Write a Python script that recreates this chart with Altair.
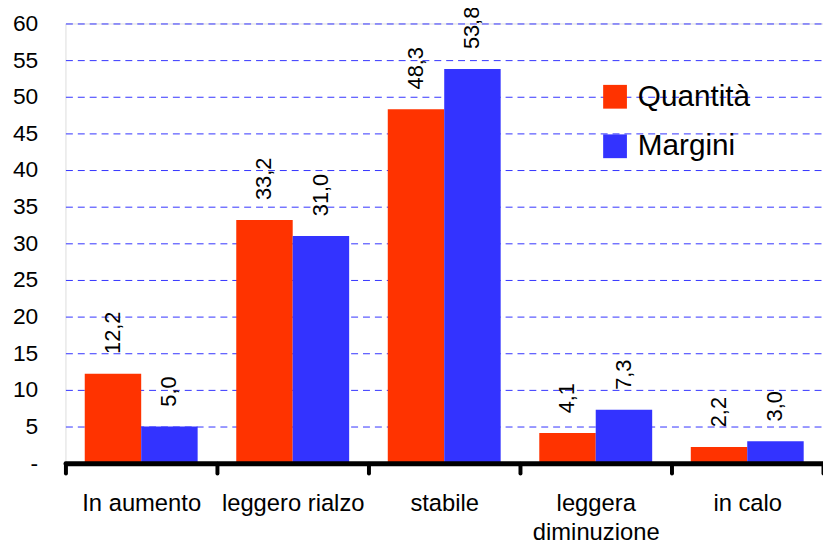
import altair as alt
import pandas as pd

categories = ["In aumento", "leggero rialzo", "stabile", "leggera diminuzione", "in calo"]
series = ["Quantità", "Margini"]
quantita = [12.2, 33.2, 48.3, 4.1, 2.2]
margini = [5.0, 31.0, 53.8, 7.3, 3.0]
colors = ["#FF3300", "#3333FF"]
y_ticks = list(range(0, 61, 5))

rows = []
for c, q, m in zip(categories, quantita, margini):
    rows.append({"cat": c, "serie": series[0], "v": q})
    rows.append({"cat": c, "serie": series[1], "v": m})
df = pd.DataFrame(rows)

FONT = "Liberation Sans"

x = alt.X(
    "cat:N",
    sort=categories,
    scale=alt.Scale(paddingInner=0, paddingOuter=0),
    axis=alt.Axis(
        title=None,
        labelAngle=0,
        tickBand="extent",
        domainColor="black",
        domainWidth=5,
        domainCap="round",
        tickColor="black",
        tickWidth=4,
        tickSize=10,
        tickCap="round",
        labelFont=FONT,
        labelFontSize=24,
        labelColor="black",
        labelPadding=19,
        labelLineHeight=29,
        labelOverlap=False,
        labelBound=False,
        labelLimit=0,
        labelExpr="datum.label == 'leggera diminuzione' ? ['leggera', 'diminuzione'] : datum.label",
        grid=False,
        zindex=1,
    ),
)
xo = alt.XOffset("serie:N", sort=series, scale=alt.Scale(paddingInner=0, paddingOuter=0.342))
y = alt.Y(
    "v:Q",
    scale=alt.Scale(domain=[0, 60], nice=False, zero=True),
    axis=alt.Axis(
        title=None,
        values=y_ticks,
        ticks=False,
        domain=False,
        labelFont=FONT,
        labelFontSize=23,
        labelColor="black",
        labelPadding=28,
        labelOverlap=False,
        labelExpr="datum.value == 0 ? '-' : datum.label",
        grid=True,
        gridColor="#3333FF",
        gridDash=[7, 5],
        gridWidth=1,
        zindex=0,
    ),
)

bars = alt.Chart(df).mark_bar().encode(
    x=x,
    xOffset=xo,
    y=y,
    color=alt.Color(
        "serie:N",
        sort=series,
        scale=alt.Scale(domain=series, range=colors),
        legend=alt.Legend(
            title=None,
            orient="none",
            legendX=540,
            legendY=59,
            symbolType="square",
            symbolSize=576,
            symbolStrokeWidth=0,
            labelFont=FONT,
            labelFontSize=30,
            labelColor="black",
            labelOffset=8,
            rowPadding=20,
        ),
    ),
)

labels = alt.Chart(df).transform_calculate(
    lab="replace(format(datum.v, '.1f'), '.', ',')"
).mark_text(
    angle=270, align="left", baseline="middle", dx=20, font=FONT, fontSize=22, color="black"
).encode(
    x=x,
    xOffset=xo,
    y=y,
    text="lab:N",
)

chart = alt.layer(bars, labels).properties(
    width=765,
    height=444,
    autosize=alt.AutoSizeParams(type="none"),
    padding={"left": 58, "top": 13, "right": 0, "bottom": 80},
).configure_view(stroke=None).configure(background="white")

chart.save("out.html", embed_options={"renderer": "svg", "actions": False})
